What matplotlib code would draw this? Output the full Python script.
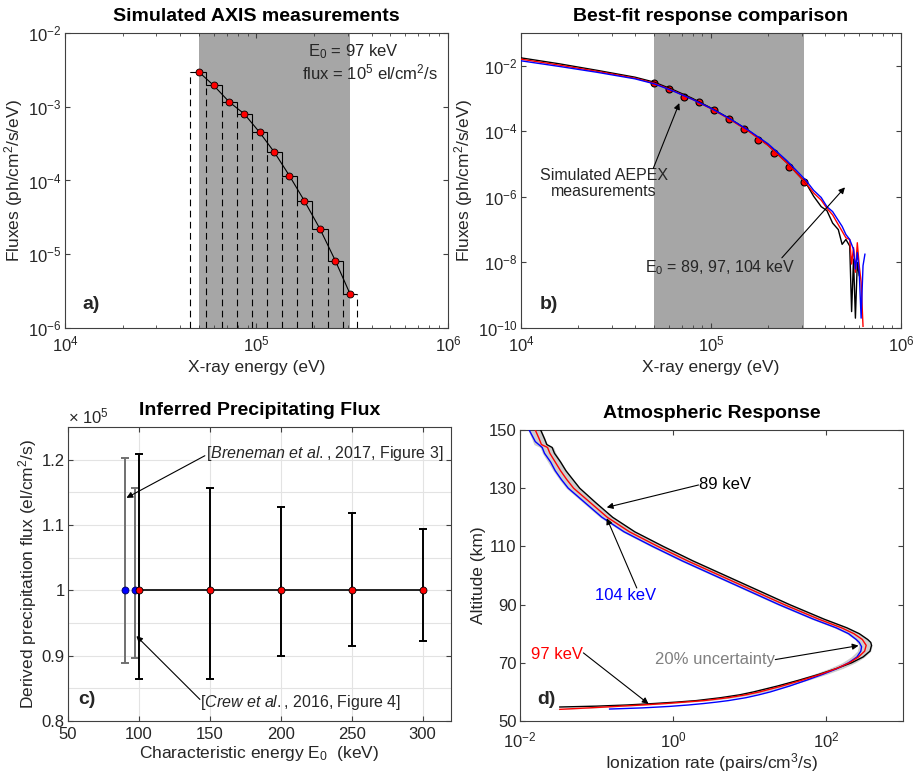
import matplotlib
matplotlib.use("Agg")
import matplotlib.pyplot as plt
import numpy as np
from matplotlib.ticker import FixedLocator, FuncFormatter, LogLocator, NullLocator, MultipleLocator

plt.rcParams.update({
    "font.family": ["Liberation Sans", "DejaVu Sans"],
    "mathtext.fontset": "custom",
    "mathtext.rm": "Liberation Sans",
    "mathtext.it": "Liberation Sans:italic",
    "mathtext.bf": "Liberation Sans:bold",
    "font.size": 12,
    "axes.edgecolor": "#404040",
    "axes.linewidth": 0.8,
    "axes.labelcolor": "#262626",
    "xtick.direction": "in", "ytick.direction": "in",
    "xtick.top": True, "ytick.right": True,
    "xtick.color": "#404040", "ytick.color": "#404040",
    "xtick.labelcolor": "#262626", "ytick.labelcolor": "#262626",
    "xtick.labelsize": 12, "ytick.labelsize": 12,
    "xtick.major.size": 3.5, "ytick.major.size": 3.5,
    "xtick.minor.size": 2, "ytick.minor.size": 2,
    "xtick.major.pad": 4.5, "ytick.major.pad": 2.5,
    "axes.titlesize": 14, "axes.titleweight": "bold", "axes.titlepad": 8.5,
    "axes.labelsize": 12.5, "axes.labelpad": 2,
})

GREY = "#a6a6a6"
SHADE = (5.0e4, 3.07e5)

# panel a: simulated AXIS measurements (histogram bins + bin values)
axis_energy = [5.0e4, 5.98e4, 7.23e4, 8.63e4, 1.038e5, 1.242e5, 1.486e5, 1.778e5, 2.147e5, 2.58e5, 3.08e5]
axis_flux = [2.96e-3, 1.94e-3, 1.15e-3, 8.0e-4, 4.5e-4, 2.4e-4, 1.16e-4, 5.3e-5, 2.2e-5, 8.2e-6, 2.9e-6]
axis_edges = [4.51e4, 5.48e4, 6.62e4, 7.93e4, 9.49e4, 1.137e5, 1.362e5, 1.63e5, 1.959e5, 2.365e5, 2.843e5, 3.365e5]

# panel b: best-fit responses (log10 flux) for E0 = 89, 97, 104 keV
resp_energy = [1.0e4, 1.585e4, 2.512e4, 3.981e4, 5.012e4, 6.31e4, 7.943e4, 1.0e5, 1.259e5, 1.585e5,
               1.995e5, 2.512e5, 3.162e5, 3.467e5, 3.802e5, 4.074e5, 4.365e5, 4.677e5, 4.898e5, 5.129e5,
               5.37e5, 5.495e5, 5.623e5, 5.754e5, 5.888e5, 6.026e5, 6.166e5, 6.31e5, 6.457e5]
resp_89 = [-1.76, -1.94, -2.14, -2.35, -2.50, -2.73, -2.99, -3.29, -3.62, -3.99,
           -4.42, -4.96, -5.58, -5.98, -6.30, -6.42, -6.80, -7.00, -7.45, -7.30,
           -7.50, -9.50, -7.90, -9.70, -8.00, -8.40, np.nan, np.nan, np.nan]
resp_97 = [-1.80, -1.98, -2.17, -2.38, -2.53, -2.76, -3.02, -3.31, -3.64, -4.01,
           -4.43, -4.97, -5.58, -5.88, -6.10, -6.35, -6.55, -6.85, -7.05, -7.25,
           -7.30, -8.05, -7.55, -8.30, -7.40, -8.10, -8.60, -9.95, np.nan]
resp_104 = [-1.85, -2.02, -2.20, -2.40, -2.55, -2.77, -3.02, -3.30, -3.62, -3.98,
            -4.38, -4.90, -5.50, -5.80, -6.02, -6.30, -6.45, -6.72, -6.90, -7.15,
            -7.30, -7.45, -7.60, -8.20, -7.70, -8.30, -9.70, -8.10, -7.75]

# panel c: inferred precipitating flux
fit_E0 = [100, 150, 200, 250, 300]
fit_lo = [0.864e5, 0.864e5, 0.900e5, 0.915e5, 0.922e5]
fit_hi = [1.208e5, 1.157e5, 1.128e5, 1.119e5, 1.094e5]
fit_flux = [1.0e5, 1.0e5, 1.0e5, 1.0e5, 1.0e5]
lit_E0 = [90, 97]
lit_lo = [0.888e5, 0.896e5]
lit_hi = [1.203e5, 1.156e5]
lit_flux = [1.0e5, 1.0e5]

# panel d: ionization profiles (altitude km, log10 rate)
alt_89 = [54.8, 55.1, 55.5, 56.0, 56.5, 57.0, 58.0, 59.0, 60.0, 62.0, 64.0, 66.0, 68.0, 70.0, 72.0, 74.0,
          76.0, 77.0, 78.0, 80.0, 82.0, 85.0, 90.0, 95.0, 100.0, 105.0, 110.0, 115.0, 120.0, 125.0,
          130.0, 133.0, 136.0, 139.0, 142.0, 144.0, 145.0, 147.0, 150.0]
ion_89 = [-1.48, -1.00, -0.60, -0.25, 0.05, 0.30, 0.62, 0.87, 1.05, 1.36, 1.64, 1.90, 2.13, 2.33, 2.48, 2.57,
          2.59, 2.58, 2.54, 2.43, 2.27, 1.97, 1.52, 1.10, 0.68, 0.26, -0.13, -0.50, -0.79, -1.01,
          -1.22, -1.31, -1.40, -1.47, -1.55, -1.58, -1.65, -1.68, -1.73]
alt_97 = [54.0, 54.5, 55.0, 55.5, 56.0, 56.5, 57.0, 58.0, 59.0, 60.0, 62.0, 64.0, 66.0, 68.0, 70.0, 72.0,
          74.0, 76.0, 78.0, 80.0, 82.0, 85.0, 90.0, 95.0, 100.0, 105.0, 110.0, 115.0, 120.0, 125.0,
          130.0, 133.0, 136.0, 139.0, 142.0, 144.0, 145.0, 147.0, 150.0]
ion_97 = [-1.48, -1.10, -0.75, -0.40, -0.10, 0.15, 0.40, 0.72, 0.95, 1.13, 1.42, 1.68, 1.92, 2.13, 2.30, 2.42,
          2.50, 2.52, 2.47, 2.36, 2.20, 1.90, 1.45, 1.03, 0.61, 0.19, -0.20, -0.57, -0.86, -1.08,
          -1.30, -1.39, -1.47, -1.54, -1.61, -1.64, -1.72, -1.75, -1.80]
alt_104 = [54.1, 54.5, 55.0, 55.5, 56.0, 56.5, 57.0, 58.0, 59.0, 60.0, 62.0, 64.0, 66.0, 68.0, 70.0, 72.0,
           74.0, 75.5, 77.0, 78.0, 80.0, 82.0, 85.0, 90.0, 95.0, 100.0, 105.0, 110.0, 115.0, 120.0,
           125.0, 130.0, 133.0, 136.0, 139.0, 142.0, 144.0, 146.0, 150.0]
ion_104 = [-0.83, -0.40, -0.05, 0.20, 0.40, 0.57, 0.72, 0.95, 1.12, 1.27, 1.52, 1.74, 1.95, 2.14, 2.29, 2.40,
           2.45, 2.46, 2.43, 2.39, 2.29, 2.13, 1.83, 1.38, 0.96, 0.54, 0.12, -0.27, -0.64, -0.93,
           -1.15, -1.37, -1.46, -1.54, -1.60, -1.68, -1.71, -1.80, -1.88]


def panel_label(ax, s, x, y):
    ax.text(x, y, s, transform=ax.transAxes, fontsize=14, fontweight="bold",
            color="#262626", ha="left", va="center")


def arrow(ax, start, end):
    ax.annotate("", xy=end, xytext=start,
                arrowprops=dict(arrowstyle="-|>", lw=0.8, color="k", mutation_scale=9,
                                shrinkA=0, shrinkB=0))


fig = plt.figure(figsize=(9.14, 7.77), dpi=100)

# ---- a) simulated AXIS measurements
ax = fig.add_axes([0.0711, 0.5779, 0.419, 0.3797])
ax.set_xscale("log"); ax.set_yscale("log")
ax.axvspan(*SHADE, color=GREY, lw=0, zorder=0)
fa = np.array(axis_flux)
ax.stairs(fa, axis_edges, baseline=None, color="k", lw=0.8)
lower = np.minimum(np.r_[fa[0], fa], np.r_[fa, fa[-1]])
ax.vlines(axis_edges, 1e-6, lower, colors="k", linestyles=(0, (6, 4)), lw=0.8)
ax.plot(axis_energy, axis_flux, "-", color="k", lw=0.8)
ax.plot(axis_energy, axis_flux, "o", mfc="r", mec="k", ms=5, mew=0.6, zorder=5)
ax.set_xlim(1e4, 1e6); ax.set_ylim(1e-6, 1e-2)
ax.xaxis.set_major_locator(LogLocator(base=10))
ax.xaxis.set_minor_locator(LogLocator(base=10, subs=np.arange(2, 10)))
ax.yaxis.set_major_locator(LogLocator(base=10))
ax.yaxis.set_minor_locator(NullLocator())
ax.set_title("Simulated AXIS measurements")
ax.set_xlabel("X-ray energy (eV)", labelpad=4)
ax.set_ylabel("Fluxes (ph/cm$^2$/s/eV)")
ax.text(0.634, 0.936, "E$_0$ = 97 keV", transform=ax.transAxes, fontsize=12, color="#262626", va="center")
ax.text(0.619, 0.866, "flux = 10$^5$ el/cm$^2$/s", transform=ax.transAxes, fontsize=12,
        color="#262626", va="center")
panel_label(ax, "a)", 0.045, 0.08)

# ---- b) best-fit response comparison
ax = fig.add_axes([0.570, 0.5779, 0.4158, 0.3797])
ax.set_xscale("log"); ax.set_yscale("log")
ax.axvspan(*SHADE, color=GREY, lw=0, zorder=0)
ax.plot(axis_energy, axis_flux, "o", mfc="r", mec="k", ms=5, mew=0.8, zorder=2)
for vals, col in [(resp_89, "k"), (resp_97, "r"), (resp_104, "b")]:
    ax.plot(resp_energy, 10 ** np.array(vals, float), color=col, lw=1.0, zorder=3)
ax.set_xlim(1e4, 1e6); ax.set_ylim(1e-10, 1e-1)
ax.xaxis.set_major_locator(LogLocator(base=10))
ax.xaxis.set_minor_locator(LogLocator(base=10, subs=np.arange(2, 10)))
ax.yaxis.set_major_locator(FixedLocator([1e-10, 1e-8, 1e-6, 1e-4, 1e-2]))
ax.yaxis.set_minor_locator(NullLocator())
ax.set_title("Best-fit response comparison")
ax.set_xlabel("X-ray energy (eV)", labelpad=4)
ax.set_ylabel("Fluxes (ph/cm$^2$/s/eV)")
ax.text(2.74e4, 10 ** -5.59, "Simulated AEPEX\nmeasurements", ha="center", va="center",
        fontsize=11.5, color="#262626", linespacing=1.1)
arrow(ax, (4.97e4, 10 ** -5.13), (6.81e4, 10 ** -3.14))
ax.text(1.11e5, 10 ** -8.16, "E$_0$ = 89, 97, 104 keV", ha="center", va="center", fontsize=11.5,
        color="#262626")
arrow(ax, (2.36e5, 10 ** -7.86), (5.07e5, 10 ** -5.71))
panel_label(ax, "b)", 0.05, 0.08)

# ---- c) inferred precipitating flux
ax = fig.add_axes([0.0744, 0.0721, 0.419, 0.3784])
fit_flux_a = np.array(fit_flux)
lit_flux_a = np.array(lit_flux)
ax.errorbar(lit_E0, lit_flux, yerr=[lit_flux_a - lit_lo, np.array(lit_hi) - lit_flux_a], fmt="none",
            ecolor="#707070", elinewidth=1.4, capsize=3, capthick=1.4, zorder=3)
ax.plot(lit_E0, lit_flux, "o", mfc="b", mec="#000060", ms=5, mew=0.6, zorder=5)
ax.errorbar(fit_E0, fit_flux, yerr=[fit_flux_a - fit_lo, np.array(fit_hi) - fit_flux_a], fmt="-",
            color="k", lw=1.2, ecolor="k", elinewidth=1.4, capsize=3, capthick=1.4, zorder=4)
ax.plot(fit_E0, fit_flux, "o", mfc="r", mec="k", ms=5, mew=0.6, zorder=6)
ax.set_xlim(50, 320); ax.set_ylim(0.8e5, 1.25e5)
ax.xaxis.set_major_locator(MultipleLocator(50))
ax.yaxis.set_major_locator(FixedLocator([0.8e5, 0.9e5, 1.0e5, 1.1e5, 1.2e5]))
ax.yaxis.set_minor_locator(FixedLocator([0.85e5, 0.95e5, 1.05e5, 1.15e5]))
ax.yaxis.set_major_formatter(FuncFormatter(lambda v, p: f"{v / 1e5:g}"))
ax.tick_params(which="minor", length=0)
ax.grid(True, which="major", color="#e3e3e3", lw=0.8)
ax.grid(True, which="minor", axis="y", color="#e3e3e3", lw=0.8)
ax.set_axisbelow(True)
ax.set_title("Inferred Precipitating Flux")
ax.set_xlabel("Characteristic energy E$_0$  (keV)", labelpad=1)
ax.set_ylabel("Derived precipitation flux (el/cm$^2$/s)")
ax.text(0.0, 1.035, "× 10$^5$", transform=ax.transAxes, fontsize=12, color="#262626", va="center")
ax.text(147.6, 1.209e5, "[$\\it{Breneman\\ et\\ al.}$, 2017, Figure 3]", ha="left", va="center",
        fontsize=11.5, color="#262626")
arrow(ax, (146.5, 1.206e5), (91.2, 1.1415e5))
ax.text(143.0, 0.828e5, "[$\\it{Crew\\ et\\ al.}$, 2016, Figure 4]", ha="left", va="center",
        fontsize=11.5, color="#262626")
arrow(ax, (143.0, 0.833e5), (98.2, 0.93e5))
panel_label(ax, "c)", 0.026, 0.072)

# ---- d) atmospheric response
ax = fig.add_axes([0.5689, 0.0721, 0.419, 0.3745])
ax.set_xscale("log")
r97 = 10 ** np.array(ion_97)
ax.fill_betweenx(alt_97, 0.8 * r97, 1.2 * r97, color="#cdcdcd", lw=0, zorder=1)
ax.plot(10 ** np.array(ion_89), alt_89, color="k", lw=1.0, zorder=3)
ax.plot(r97, alt_97, color="r", lw=1.0, zorder=4)
ax.plot(10 ** np.array(ion_104), alt_104, color="b", lw=1.0, zorder=3)
ax.set_xlim(1e-2, 1e3); ax.set_ylim(50, 150)
ax.xaxis.set_major_locator(FixedLocator([1e-2, 1e0, 1e2]))
ax.xaxis.set_minor_locator(NullLocator())
ax.yaxis.set_major_locator(FixedLocator([50, 70, 90, 110, 130, 150]))
ax.tick_params(axis="x", which="major", pad=7)
ax.set_title("Atmospheric Response")
ax.set_xlabel("Ionization rate (pairs/cm$^3$/s)", labelpad=0)
ax.set_ylabel("Altitude (km)")
ax.text(10 ** 0.331, 131.1, "89 keV", ha="left", va="center", fontsize=12, color="k")
arrow(ax, (10 ** 0.331, 131.1), (10 ** -0.867, 123.4))
ax.text(10 ** -0.627, 93.2, "104 keV", ha="center", va="center", fontsize=12, color="b")
arrow(ax, (10 ** -0.475, 95.7), (10 ** -0.867, 119.7))
ax.text(10 ** -1.172, 73.0, "97 keV", ha="right", va="center", fontsize=12, color="r")
arrow(ax, (10 ** -1.172, 73.4), (10 ** -0.322, 55.9))
ax.text(10 ** 1.333, 71.1, "20% uncertainty", ha="right", va="center", fontsize=12, color="#808080")
arrow(ax, (10 ** 1.333, 71.1), (10 ** 2.42, 75.9))
panel_label(ax, "d)", 0.044, 0.073)

fig.savefig("out.png", dpi=100, facecolor="white")
